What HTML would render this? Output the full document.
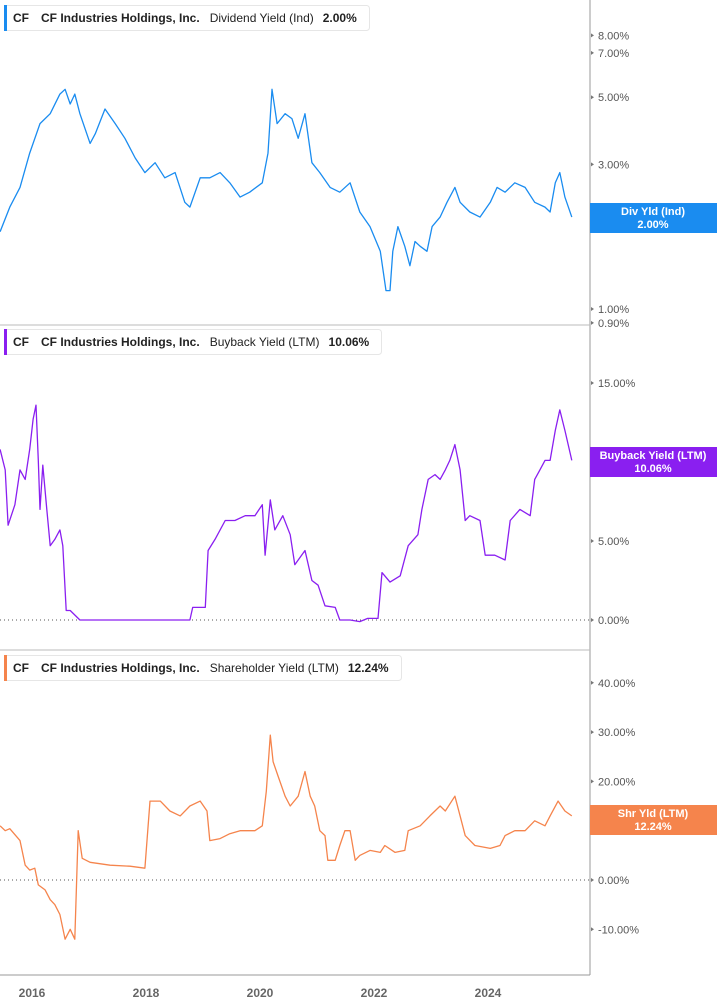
<!DOCTYPE html>
<html><head><meta charset="utf-8"><style>
body{margin:0;background:#fff;font-family:"Liberation Sans",sans-serif;}
svg{display:block}
</style></head><body>
<svg id="c" width="717" height="1005"></svg>
<script>
const divDates=[15.44,15.61,15.79,15.96,16.14,16.32,16.49,16.58,16.67,16.75,16.84,17.02,17.11,17.28,17.46,17.63,17.81,17.98,18.16,18.33,18.51,18.68,18.77,18.95,19.12,19.30,19.47,19.65,19.82,20.04,20.14,20.21,20.30,20.44,20.56,20.67,20.79,20.91,21.05,21.23,21.40,21.58,21.75,21.93,22.11,22.21,22.28,22.33,22.42,22.54,22.63,22.72,22.81,22.93,23.02,23.16,23.28,23.42,23.51,23.68,23.86,24.04,24.16,24.30,24.47,24.65,24.82,25.00,25.09,25.18,25.26,25.35,25.47];
const divValues=[1.80,2.17,2.52,3.27,4.09,4.41,5.12,5.31,4.75,5.12,4.41,3.52,3.79,4.57,4.09,3.66,3.15,2.82,3.04,2.71,2.82,2.25,2.17,2.71,2.71,2.82,2.61,2.34,2.43,2.61,3.27,5.31,4.09,4.41,4.25,3.66,4.41,3.04,2.82,2.52,2.43,2.61,2.09,1.87,1.55,1.15,1.15,1.55,1.87,1.61,1.39,1.67,1.61,1.55,1.87,2.01,2.25,2.52,2.25,2.09,2.01,2.25,2.52,2.43,2.61,2.52,2.25,2.17,2.09,2.61,2.82,2.34,2.01];
const bbDates=[15.44,15.53,15.58,15.70,15.79,15.88,15.96,16.02,16.07,16.11,16.14,16.19,16.26,16.32,16.40,16.49,16.54,16.60,16.67,16.84,18.77,18.82,19.04,19.09,19.21,19.39,19.56,19.74,19.91,20.04,20.09,20.18,20.26,20.40,20.53,20.61,20.79,20.91,21.02,21.14,21.32,21.40,21.58,21.75,21.89,22.07,22.14,22.28,22.46,22.60,22.77,22.84,22.95,23.07,23.16,23.25,23.33,23.42,23.51,23.60,23.68,23.86,23.95,24.12,24.30,24.39,24.56,24.74,24.82,24.91,25.00,25.09,25.18,25.26,25.35,25.47];
const bbValues=[10.8,9.5,6.0,7.3,9.5,8.9,10.8,12.7,13.6,10.1,7.0,9.8,7.0,4.7,5.1,5.7,4.7,0.6,0.6,0,0,0.8,0.8,4.4,5.1,6.3,6.3,6.6,6.6,7.3,4.1,7.6,5.7,6.6,5.4,3.5,4.4,2.5,2.2,0.9,0.8,0,0,-0.1,0.1,0.1,3.0,2.4,2.8,4.7,5.4,7.0,8.9,9.2,8.9,9.5,10.1,11.1,9.5,6.3,6.6,6.3,4.1,4.1,3.8,6.3,7.0,6.6,8.9,9.5,10.1,10.1,12.0,13.3,12.0,10.1];
const shDates=[15.44,15.53,15.61,15.79,15.88,15.96,16.05,16.11,16.23,16.32,16.40,16.49,16.58,16.67,16.75,16.81,16.88,17.02,17.37,17.72,17.98,18.07,18.25,18.42,18.60,18.77,18.95,19.07,19.12,19.30,19.47,19.65,19.91,20.04,20.11,20.18,20.23,20.32,20.44,20.53,20.67,20.79,20.88,20.96,21.05,21.14,21.19,21.32,21.40,21.49,21.58,21.67,21.75,21.93,22.11,22.19,22.37,22.54,22.60,22.81,22.98,23.16,23.25,23.42,23.51,23.60,23.77,24.04,24.21,24.30,24.47,24.65,24.82,25.00,25.09,25.23,25.35,25.47];
const shValues=[11,10,10.4,8,3,2,2.4,-1,-2,-4,-5,-7,-12,-10,-12,10,4.4,3.6,3,2.8,2.4,16,16,14,13,15,16,14,8,8.4,9.4,10,10,11,18,29.4,24,21,17,15,17,22,17,15,10,9,4,4,7,10,10,4,5,6,5.6,7,5.6,6,10,11,13,15,14,17,13,9,7,6.4,7,9,10,10,12,11,13,16,14,13];
const yearTicks=[2016,2018,2020,2022,2024];
const divTicks=[1,0.9,2,3,5,7,8];
const bbTicks=[0,5,15];
const shTicks=[-10,0,10,20,30,40];

const svg=document.getElementById('c');
const NS='http://www.w3.org/2000/svg';
function mk(t,a,p){const e=document.createElementNS(NS,t);for(const k in a)e.setAttribute(k,a[k]);(p||svg).appendChild(e);return e;}
const X=y=>32+(y-2016)*57;
const Xd=d=>X(2000+d);
const Ydiv=v=>309-Math.log10(v)*303;
const Ybb=v=>620-v*15.8;
const Ysh=v=>880-v*4.93;

let e;
e=mk('line',{x1:590,y1:0,x2:590,y2:975,stroke:'#999','stroke-width':1});


e=mk('line',{x1:0,y1:325,x2:590,y2:325,stroke:'#bbb','stroke-width':1});


e=mk('line',{x1:0,y1:650,x2:590,y2:650,stroke:'#bbb','stroke-width':1});


e=mk('line',{x1:0,y1:975,x2:590,y2:975,stroke:'#999','stroke-width':1});


e=mk('line',{x1:0,y1:Ybb(0),x2:590,y2:Ybb(0),stroke:'#555','stroke-width':1,'stroke-dasharray':'1,3'});


e=mk('line',{x1:0,y1:Ysh(0),x2:590,y2:Ysh(0),stroke:'#555','stroke-width':1,'stroke-dasharray':'1,3'});



function tick(y,label,name){
  const t=mk('text',{x:598,y:y+4,'font-size':11,fill:'#555'});t.textContent=label;
  
  
  mk('path',{d:`M591 ${y-2}L594 ${y}L591 ${y+2}Z`,fill:'#777'});
}
divTicks.forEach(v=>tick(Ydiv(v),v.toFixed(2)+'%','div-y-tick'));
bbTicks.forEach(v=>tick(Ybb(v),v.toFixed(2)+'%','buyback-y-tick'));
shTicks.forEach(v=>tick(Ysh(v),v.toFixed(2)+'%','shareholder-y-tick'));
yearTicks.forEach(yr=>{
  const t=mk('text',{x:X(yr),y:997,'font-size':12,'font-weight':'bold',fill:'#666','text-anchor':'middle'});t.textContent=yr;
  
  
});

function series(d,v,Y,color,name){
  const pts=d.map((x,i)=>Xd(x).toFixed(1)+','+Y(v[i]).toFixed(1)).join(' ');
  const p=mk('polyline',{points:pts,fill:'none',stroke:color,'stroke-width':1.3,'stroke-linejoin':'round'});
  
  
}
series(divDates,divValues,Ydiv,'#1a8cf0','dividend-yield-line');
series(bbDates,bbValues,Ybb,'#8a1ff0','buyback-yield-line');
series(shDates,shValues,Ysh,'#f5844c','shareholder-yield-line');

function legend(y,w,color,metric,val,name){
  const g=mk('g',{});
  
  
  mk('rect',{x:4.5,y:y+0.5,width:w,height:25,rx:3,fill:'#fff',stroke:'#e6e6e6'},g);
  mk('rect',{x:4,y:y,width:3,height:26,fill:color},g);
  const t=mk('text',{x:13,y:y+17,'font-size':12,'font-weight':'bold',fill:'#222'},g);
  t.innerHTML=`CF<tspan dx="12">CF Industries Holdings, Inc.</tspan><tspan dx="10" font-weight="normal">${metric}</tspan><tspan dx="9">${val}</tspan>`;
}
legend(5,365,'#1a8cf0','Dividend Yield (Ind)','2.00%','dividend-legend');
legend(329,377,'#8a1ff0','Buyback Yield (LTM)','10.06%','buyback-legend');
legend(655,397,'#f5844c','Shareholder Yield (LTM)','12.24%','shareholder-legend');

function badge(yc,color,l1,l2,name){
  const g=mk('g',{});
  
  
  mk('rect',{x:590,y:yc-15,width:127,height:30,fill:color},g);
  const a=mk('text',{x:653,y:yc-3,'font-size':11,'font-weight':'bold',fill:'#fff','text-anchor':'middle'},g);a.textContent=l1;
  const b=mk('text',{x:653,y:yc+10,'font-size':11,'font-weight':'bold',fill:'#fff','text-anchor':'middle'},g);b.textContent=l2;
}
badge(218,'#1a8cf0','Div Yld (Ind)','2.00%','dividend-value-badge');
badge(462,'#8a1ff0','Buyback Yield (LTM)','10.06%','buyback-value-badge');
badge(820,'#f5844c','Shr Yld (LTM)','12.24%','shareholder-value-badge');
</script>
</body></html>
